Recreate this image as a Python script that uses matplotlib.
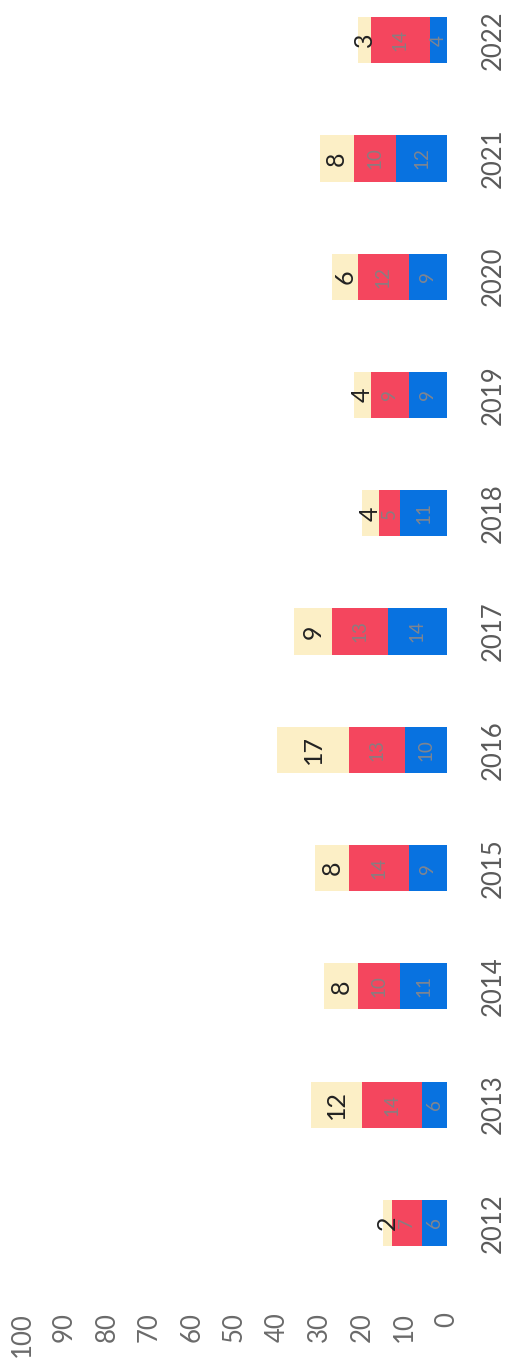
import matplotlib
matplotlib.use('Agg')
import matplotlib.pyplot as plt
import numpy as np

# Data (bottom to top of each stack)
years = [2012, 2013, 2014, 2015, 2016, 2017, 2018, 2019, 2020, 2021, 2022]
blue_vals = [6, 6, 11, 9, 10, 14, 11, 9, 9, 12, 4]
red_vals = [7, 14, 10, 14, 13, 13, 5, 9, 12, 10, 14]
yellow_vals = [2, 12, 8, 8, 17, 9, 4, 4, 6, 8, 3]
value_ticks = [0, 10, 20, 30, 40, 50, 60, 70, 80, 90, 100]

plt.rcParams['font.family'] = ['Lato', 'DejaVu Sans']

fig = plt.figure(figsize=(5.08, 13.62), dpi=100)
# chart is drawn turned on its side: values run right-to-left, years bottom-to-top
ax = fig.add_axes([22 / 508, 80 / 1362, 425 / 508, 1282 / 1362])

y = np.array(years)
blue = np.array(blue_vals)
red = np.array(red_vals)
yellow = np.array(yellow_vals)
h = 0.39

ax.barh(y, blue, height=h, color='#0872E0')
ax.barh(y, red, height=h, left=blue, color='#F4465E')
ax.barh(y, yellow, height=h, left=blue + red, color='#FCEFC6')

for yr, b, r, yl in zip(y, blue, red, yellow):
    ax.text(b / 2, yr, str(b), rotation=90, ha='center', va='center',
            fontsize=13.5, color='#7f8590')
    ax.text(b + r / 2, yr, str(r), rotation=90, ha='center', va='center',
            fontsize=13.5, color='#8a7c80')
    ax.text(b + r + yl / 2, yr, str(yl), rotation=90, ha='center', va='center',
            fontsize=18, color='#222222')

ax.set_xlim(100, 0)
ax.set_ylim(2011.5, 2022.34)

ax.set_xticks(value_ticks)
ax.set_xticklabels([str(v) for v in value_ticks], rotation=90, va='top',
                   ha='center', fontsize=18.5, color='#6a6a6a')
ax.tick_params(axis='x', length=0, pad=22)

ax.yaxis.tick_right()
ax.set_yticks(years)
ax.set_yticklabels([str(v) for v in years], rotation=90, va='center',
                   ha='left', fontsize=18.5, color='#5a5a5a')
ax.tick_params(axis='y', length=0, pad=24)

for s in ax.spines.values():
    s.set_visible(False)

fig.savefig('out.png', dpi=100, facecolor='white')
